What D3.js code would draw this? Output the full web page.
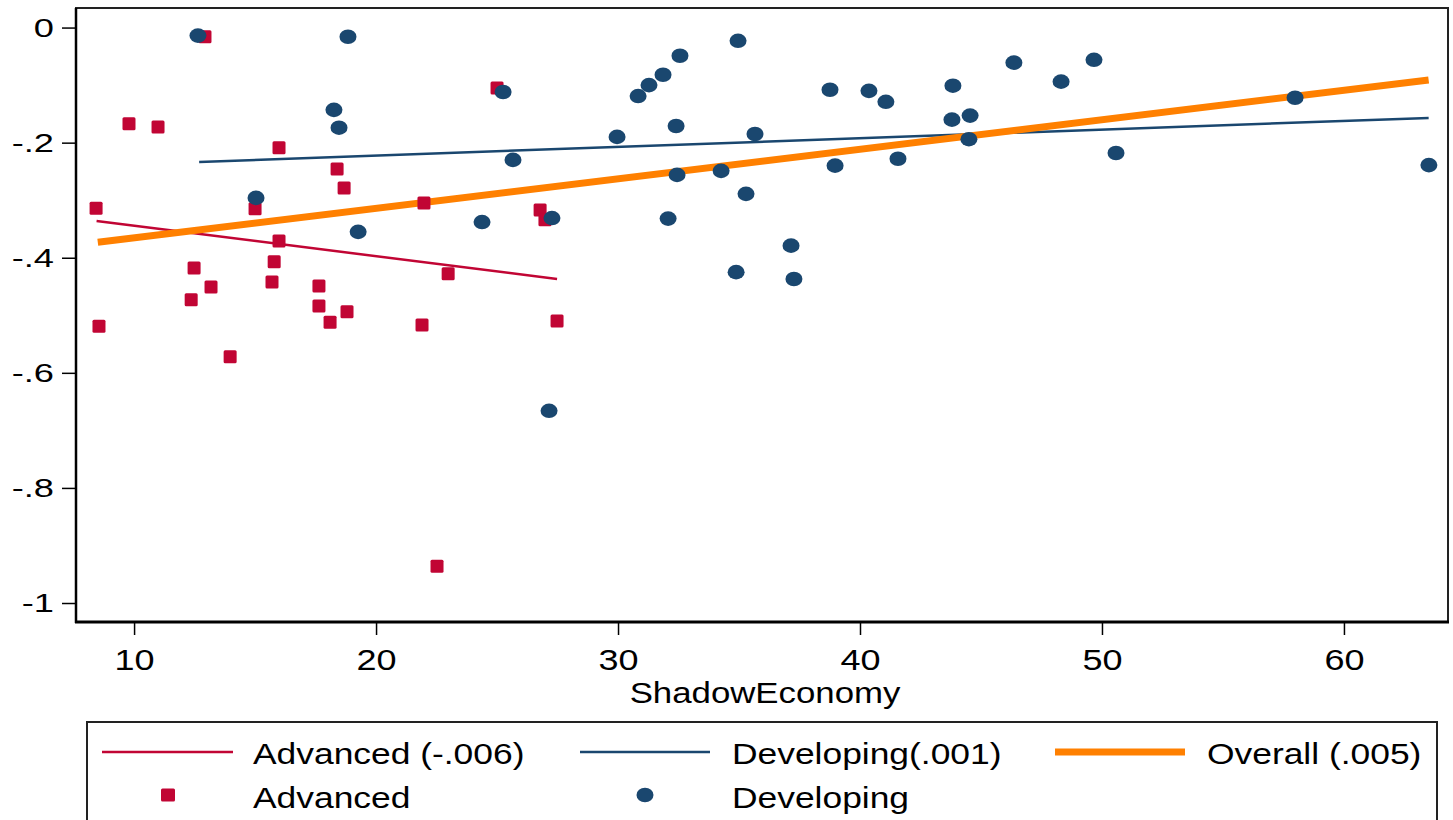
<!DOCTYPE html>
<html>
<head>
<meta charset="utf-8">
<script src="https://cdn.jsdelivr.net/npm/d3@7"></script>
<style>
  body { margin: 0; background: #fff; }
  text { font-family: "Liberation Sans", Arial, sans-serif; fill: #000; }
</style>
</head>
<body>
<div id="chart"></div>
<script>
// shadow economy (x) vs outcome (y)
const advancedX = [8.43, 8.55, 9.79, 10.99, 12.93, 12.48, 12.36, 13.18, 13.97, 15.00, 15.99, 15.99, 15.79, 15.70,
  17.64, 17.64, 18.10, 18.39, 18.68, 18.80, 21.98, 21.90, 22.98, 22.52, 25.00, 26.78, 26.98, 27.48];
const advancedY = [-0.314, -0.519, -0.167, -0.173, -0.016, -0.418, -0.473, -0.451, -0.572, -0.315, -0.209, -0.371, -0.407, -0.442,
  -0.449, -0.484, -0.512, -0.246, -0.279, -0.494, -0.305, -0.517, -0.428, -0.936, -0.105, -0.317, -0.334, -0.510];

const developingX = [12.64, 18.84, 18.26, 18.47, 15.04, 19.26, 25.25, 25.66, 24.38, 27.27, 29.96, 30.83, 31.28, 31.86,
  32.56, 34.96, 32.40, 35.66, 32.44, 34.26, 35.29, 32.07, 34.88, 38.76, 40.37, 41.07, 43.84, 43.80, 44.55, 44.50,
  46.36, 48.31, 49.67, 38.97, 41.57, 37.15, 37.27, 50.58, 57.98, 63.51, 27.15];
const developingY = [-0.014, -0.016, -0.143, -0.174, -0.296, -0.355, -0.112, -0.230, -0.338, -0.331, -0.190, -0.119, -0.100, -0.082,
  -0.049, -0.023, -0.171, -0.185, -0.256, -0.249, -0.289, -0.332, -0.425, -0.108, -0.110, -0.129, -0.101, -0.160, -0.153, -0.194,
  -0.061, -0.094, -0.056, -0.240, -0.228, -0.379, -0.437, -0.218, -0.122, -0.239, -0.666];

// fitted lines (end points)
const advancedFit = [[8.45, -0.336], [27.48, -0.437]];
const developingFit = [[12.69, -0.2335], [63.5, -0.157]];
const overallFit = [[8.5, -0.373], [63.5, -0.091]];

const xTicks = [10, 20, 30, 40, 50, 60];
const yTicks = [0, -0.2, -0.4, -0.6, -0.8, -1];
const yTickLabels = ["0", "-.2", "-.4", "-.6", "-.8", "-1"];
const legendLabels = ["Advanced (-.006)", "Developing(.001)", "Overall (.005)", "Advanced", "Developing"];

const RED = "#c10534", NAVY = "#1a476f", ORANGE = "#ff8000";
const W = 1453, H = 820;
const L = 76, R = 1448, T = 8, B = 622;

const svg = d3.select("#chart").append("svg").attr("width", W).attr("height", H);
svg.append("rect").attr("width", W).attr("height", H).attr("fill", "#fff");

const x = d3.scaleLinear().domain([7.6, 64.3]).range([L, R]);
const y = d3.scaleLinear().domain([-1.033, 0.034]).range([B, T]);

// frame
svg.append("rect").attr("x", L).attr("y", T).attr("width", R - L).attr("height", B - T)
  .attr("fill", "none").attr("stroke", "#222").attr("stroke-width", 2);

// axes
const yAxis = svg.append("g").attr("transform", `translate(${L},0)`)
  .call(d3.axisLeft(y).tickValues(yTicks).tickSize(14).tickFormat((d, i) => yTickLabels[i]));
yAxis.select(".domain").remove();
yAxis.selectAll("line").attr("stroke", "#000").attr("stroke-width", 1.5);
yAxis.selectAll("text").attr("x", 0).attr("dy", "0.35em")
  .attr("transform", "translate(-22,0) scale(1.45,1)")
  .style("font-size", "25px");

const xAxis = svg.append("g").attr("transform", `translate(0,${B})`)
  .call(d3.axisBottom(x).tickValues(xTicks).tickSize(13).tickFormat(d3.format("d")));
xAxis.select(".domain").remove();
xAxis.selectAll("line").attr("stroke", "#000").attr("stroke-width", 1.5);
xAxis.selectAll("text").attr("y", 0).attr("dy", 0)
  .attr("transform", "translate(0,48) scale(1.2,1)")
  .style("font-size", "30px");

svg.append("line").attr("x1", L).attr("x2", L).attr("y1", T).attr("y2", B + 1)
  .attr("stroke", "#000").attr("stroke-width", 2.5);
svg.append("line").attr("x1", L - 1).attr("x2", R + 1).attr("y1", B).attr("y2", B)
  .attr("stroke", "#000").attr("stroke-width", 3);

svg.append("text").attr("text-anchor", "middle")
  .attr("transform", "translate(765,703) scale(1.2,1)")
  .style("font-size", "29px").text("ShadowEconomy");

// fit lines
const line = d3.line().x(d => x(d[0])).y(d => y(d[1]));
svg.append("path").datum(advancedFit).attr("d", line).attr("fill", "none").attr("stroke", RED).attr("stroke-width", 2.5);
svg.append("path").datum(developingFit).attr("d", line).attr("fill", "none").attr("stroke", NAVY).attr("stroke-width", 2.5);
svg.append("path").datum(overallFit).attr("d", line).attr("fill", "none").attr("stroke", ORANGE).attr("stroke-width", 7);

// markers
svg.append("g").selectAll("rect").data(d3.zip(advancedX, advancedY)).join("rect")
  .attr("x", d => x(d[0]) - 6.5).attr("y", d => y(d[1]) - 6.5)
  .attr("width", 13).attr("height", 13).attr("rx", 1.5)
  .attr("fill", RED);

svg.append("g").selectAll("ellipse").data(d3.zip(developingX, developingY)).join("ellipse")
  .attr("cx", d => x(d[0])).attr("cy", d => y(d[1]))
  .attr("rx", 8.5).attr("ry", 7.3)
  .attr("fill", NAVY);

// legend
const lg = svg.append("g");
lg.append("rect").attr("x", 87).attr("y", 722).attr("width", 1437 - 87).attr("height", 120)
  .attr("fill", "#fff").attr("stroke", "#222").attr("stroke-width", 2);

const lineKeys = [
  { x1: 102, x2: 233, tx: 253, color: RED, w: 2.5 },
  { x1: 580, x2: 710, tx: 732, color: NAVY, w: 2.5 },
  { x1: 1055, x2: 1185, tx: 1207, color: ORANGE, w: 7 }
];
lineKeys.forEach((k, i) => {
  lg.append("line").attr("x1", k.x1).attr("x2", k.x2).attr("y1", 752).attr("y2", 752)
    .attr("stroke", k.color).attr("stroke-width", k.w);
  lg.append("text").attr("transform", `translate(${k.tx},764) scale(1.18,1)`)
    .style("font-size", "30px").text(legendLabels[i]);
});

lg.append("rect").attr("x", 168 - 7).attr("y", 795 - 6.5).attr("width", 14).attr("height", 13).attr("rx", 1.5).attr("fill", RED);
lg.append("text").attr("transform", "translate(253,808) scale(1.18,1)").style("font-size", "30px").text(legendLabels[3]);
lg.append("ellipse").attr("cx", 645).attr("cy", 795).attr("rx", 8.5).attr("ry", 7.3).attr("fill", NAVY);
lg.append("text").attr("transform", "translate(732,808) scale(1.18,1)").style("font-size", "30px").text(legendLabels[4]);
</script>
</body>
</html>
